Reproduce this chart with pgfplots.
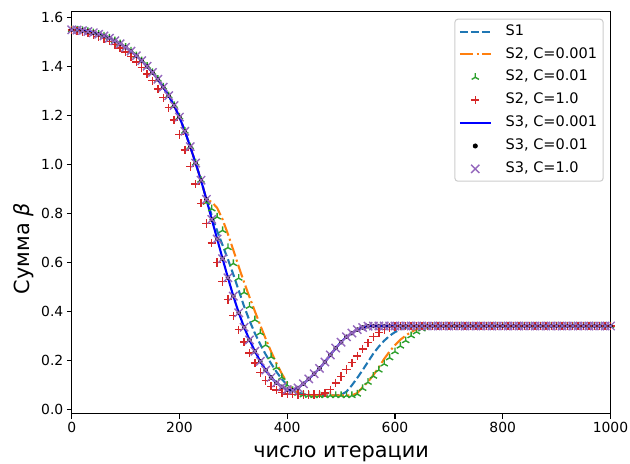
\documentclass[border=0pt]{standalone}
\usepackage{fontspec}
\setmainfont{DejaVu Sans}
\usepackage{pgfplots}
\pgfplotsset{compat=1.18}
\usepackage{pgfplotstable}

\definecolor{tabblue}{HTML}{1F77B4}
\definecolor{taborange}{HTML}{FF7F0E}
\definecolor{tabgreen}{HTML}{2CA02C}
\definecolor{tabred}{HTML}{D62728}
\definecolor{tabpurple}{HTML}{9467BD}
\definecolor{legendedge}{HTML}{CCCCCC}

\newcommand\tickfont{\fontsize{13.9bp}{16bp}\selectfont}
\newcommand\legendfont{\fontsize{14.5bp}{16bp}\selectfont}
\newcommand\labelfont{\fontsize{20.8bp}{24bp}\selectfont}

% x, S3, S1, S2 C=0.001 (sa), S2 C=0.01 (sb), S2 C=1.0 (sc)
\pgfplotstableread{
x    s3    s1    sa    sb    sc
0    1.549 1.549 1.549 1.549 1.548
10   1.548 1.548 1.548 1.548 1.545
20   1.546 1.546 1.546 1.546 1.541
30   1.542 1.542 1.542 1.542 1.536
40   1.537 1.537 1.537 1.537 1.530
50   1.531 1.531 1.531 1.531 1.522
60   1.524 1.524 1.524 1.524 1.513
70   1.515 1.515 1.515 1.515 1.502
80   1.504 1.504 1.504 1.504 1.489
90   1.492 1.492 1.492 1.492 1.475
100  1.478 1.478 1.478 1.478 1.458
110  1.462 1.462 1.462 1.462 1.439
120  1.443 1.443 1.443 1.443 1.418
130  1.423 1.423 1.423 1.423 1.395
140  1.400 1.400 1.400 1.400 1.369
150  1.375 1.375 1.375 1.375 1.341
160  1.347 1.347 1.347 1.347 1.308
170  1.315 1.315 1.315 1.315 1.272
180  1.280 1.280 1.280 1.280 1.231
190  1.240 1.240 1.240 1.240 1.181
200  1.193 1.193 1.193 1.193 1.122
210  1.135 1.135 1.135 1.135 1.059
220  1.072 1.072 1.072 1.072 0.991
230  1.005 1.005 1.005 1.005 0.919
240  0.935 0.935 0.935 0.935 0.841
250  0.857 0.857 0.857 0.845 0.759
260  0.775 0.792 0.846 0.818 0.679
270  0.695 0.728 0.822 0.785 0.599
280  0.615 0.670 0.775 0.730 0.522
290  0.537 0.612 0.715 0.660 0.448
300  0.462 0.550 0.650 0.595 0.382
310  0.394 0.485 0.582 0.535 0.325
320  0.335 0.420 0.518 0.477 0.274
330  0.283 0.362 0.458 0.420 0.229
340  0.237 0.310 0.400 0.365 0.189
350  0.196 0.265 0.343 0.312 0.150
360  0.160 0.224 0.288 0.262 0.118
370  0.130 0.187 0.236 0.214 0.094
380  0.108 0.153 0.188 0.170 0.078
390  0.092 0.123 0.145 0.130 0.068
400  0.080 0.099 0.107 0.098 0.063
410  0.078 0.081 0.080 0.077 0.061
420  0.087 0.069 0.066 0.065 0.060
430  0.104 0.062 0.060 0.059 0.060
440  0.124 0.058 0.058 0.057 0.060
450  0.145 0.057 0.057 0.056 0.060
460  0.167 0.057 0.057 0.056 0.061
470  0.193 0.057 0.057 0.056 0.066
480  0.222 0.057 0.057 0.056 0.080
490  0.250 0.057 0.057 0.056 0.108
500  0.274 0.059 0.057 0.056 0.134
510  0.296 0.072 0.057 0.056 0.162
520  0.311 0.098 0.057 0.056 0.190
530  0.325 0.128 0.066 0.062 0.218
540  0.334 0.160 0.090 0.085 0.246
550  0.339 0.194 0.112 0.110 0.272
560  0.340 0.228 0.140 0.135 0.296
570  0.340 0.256 0.171 0.160 0.313
580  0.340 0.280 0.206 0.185 0.326
590  0.340 0.300 0.236 0.210 0.334
600  0.340 0.315 0.262 0.235 0.338
610  0.340 0.326 0.284 0.258 0.340
620  0.340 0.333 0.301 0.280 0.340
630  0.340 0.337 0.316 0.300 0.340
640  0.340 0.339 0.326 0.316 0.340
650  0.340 0.340 0.333 0.328 0.340
660  0.340 0.340 0.337 0.335 0.340
670  0.340 0.340 0.339 0.339 0.340
680  0.340 0.340 0.340 0.340 0.340
690  0.340 0.340 0.340 0.340 0.340
700  0.340 0.340 0.340 0.340 0.340
710  0.340 0.340 0.340 0.340 0.340
720  0.340 0.340 0.340 0.340 0.340
730  0.340 0.340 0.340 0.340 0.340
740  0.340 0.340 0.340 0.340 0.340
750  0.340 0.340 0.340 0.340 0.340
760  0.340 0.340 0.340 0.340 0.340
770  0.340 0.340 0.340 0.340 0.340
780  0.340 0.340 0.340 0.340 0.340
790  0.340 0.340 0.340 0.340 0.340
800  0.340 0.340 0.340 0.340 0.340
810  0.340 0.340 0.340 0.340 0.340
820  0.340 0.340 0.340 0.340 0.340
830  0.340 0.340 0.340 0.340 0.340
840  0.340 0.340 0.340 0.340 0.340
850  0.340 0.340 0.340 0.340 0.340
860  0.340 0.340 0.340 0.340 0.340
870  0.340 0.340 0.340 0.340 0.340
880  0.340 0.340 0.340 0.340 0.340
890  0.340 0.340 0.340 0.340 0.340
900  0.340 0.340 0.340 0.340 0.340
910  0.340 0.340 0.340 0.340 0.340
920  0.340 0.340 0.340 0.340 0.340
930  0.340 0.340 0.340 0.340 0.340
940  0.340 0.340 0.340 0.340 0.340
950  0.340 0.340 0.340 0.340 0.340
960  0.340 0.340 0.340 0.340 0.340
970  0.340 0.340 0.340 0.340 0.340
980  0.340 0.340 0.340 0.340 0.340
990  0.340 0.340 0.340 0.340 0.340
1000 0.340 0.340 0.340 0.340 0.340
}\betadata

\begin{document}
\begin{tikzpicture}
\begin{axis}[
  scale only axis, width=538.8bp, height=402.5bp,
  xmin=0, xmax=1000, ymin=-0.018, ymax=1.625,
  axis line style={line width=1.1bp},
  tick align=outside, xtick pos=bottom, ytick pos=left,
  major tick length=4.9bp,
  every tick/.style={line width=1.1bp, black},
  xtick={0,200,400,600,800,1000},
  ytick={0,0.2,0.4,0.6,0.8,1.0,1.2,1.4,1.6},
  tick label style={font=\tickfont},
  /pgf/number format/assume math mode=true,
  /pgf/number format/1000 sep={},
  yticklabel style={/pgf/number format/.cd, fixed, fixed zerofill, precision=1},
  xlabel={число итерации},
  ylabel={Сумма {\itshape β}},
  every axis x label/.style={at={(rel axis cs:0.5,0)}, anchor=base, yshift=-44bp, font=\labelfont},
  every axis y label/.style={at={(rel axis cs:-0.0774,0.41)}, rotate=90, anchor=base, font=\labelfont},
  legend style={at={(rel axis cs:1,1)}, anchor=north east, xshift=-6.9bp, yshift=-7.5bp,
    font=\legendfont, draw=legendedge, line width=1bp, rounded corners=3bp,
    fill=white,
    inner xsep=4bp, inner ysep=3.6bp, row sep=5.4bp,
    nodes={text height=10.4bp, text depth=3.1bp},
    /tikz/every odd column/.append style={column sep=12bp}},
  legend cell align=left,
  linelegend/.style={legend image code/.code={\draw[##1] (0bp,0bp) -- (30.7bp,0bp);}},
  marklegend/.style={legend image code/.code={\draw[##1] plot coordinates {(15.35bp,0bp)};}},
]
\addplot[tabblue, line width=2.08bp, dash pattern=on 7.7bp off 3.3bp, linelegend] table[x=x, y=s1] {\betadata};
\addlegendentry{S1}
\addplot[taborange, line width=2.08bp, dash pattern=on 13.3bp off 3.3bp on 2.1bp off 3.3bp, linelegend] table[x=x, y=sa] {\betadata};
\addlegendentry{S2, C=0.001}
\addplot[tabgreen, only marks, mark=Mercedes star, mark size=4.15bp, line width=1.4bp, marklegend] table[x=x, y=sb] {\betadata};
\addlegendentry{S2, C=0.01}
\addplot[tabred, only marks, mark=+, mark size=4.15bp, line width=1.4bp, marklegend] table[x=x, y=sc] {\betadata};
\addlegendentry{S2, C=1.0}
\addplot[blue, line width=2.08bp, line join=round, linelegend] table[x=x, y=s3] {\betadata};
\addlegendentry{S3, C=0.001}
\addplot[black, only marks, mark=*, mark size=2bp, marklegend] table[x=x, y=s3] {\betadata};
\addlegendentry{S3, C=0.01}
\addplot[tabpurple, only marks, mark=x, mark size=5.87bp, line width=1.4bp, marklegend] table[x=x, y=s3] {\betadata};
\addlegendentry{S3, C=1.0}
\coordinate (sw) at (rel axis cs:0,0);
\coordinate (ne) at (rel axis cs:1,1);
\end{axis}
\pgfresetboundingbox
\path[use as bounding box] ([shift={(-71.7bp,-50.3bp)}]sw) rectangle ([shift={(19.5bp,11.2bp)}]ne);
\end{tikzpicture}
\end{document}
